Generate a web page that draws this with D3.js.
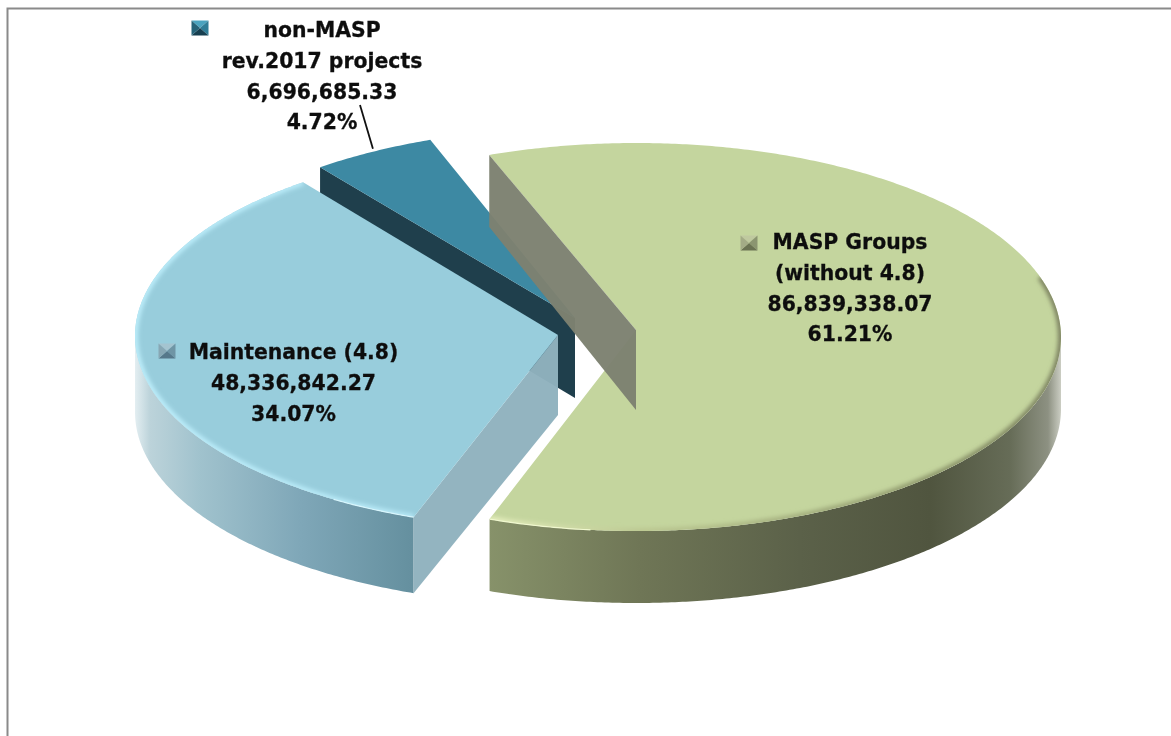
<!DOCTYPE html>
<html><head><meta charset="utf-8">
<script src="https://cdnjs.cloudflare.com/ajax/libs/d3/7.8.5/d3.min.js"></script>
<style>html,body{margin:0;padding:0;background:#fff;overflow:hidden}svg{display:block}</style>
</head><body><svg id="c" width="1171" height="736"></svg>
<script>
const categories = ["MASP Groups", "Maintenance", "non-MASP"];
const seriesValues = [86839338.07, 48336842.27, 6696685.33];
const labelLines = [["MASP Groups", "(without 4.8)"], ["Maintenance (4.8)"], ["non-MASP", "rev.2017 projects"]];
const topColors = ["#c4d59e", "#98cddc", "#3d89a3"];
const wallColors = ["#7d8171", "#8fb2be", "#1f3f4c"];
const markerColors = [["#bfc99f","#8b9570","#6a7252","#a3ab86"], ["#a4c4d0","#6f95a5","#56788a","#87a7b4"], ["#4aa3bf","#2f7d97","#173f50","#256379"]];

const svg = d3.select("#c");
const W = 425, deg = Math.PI / 180;
const apexDepth = 80;
// per-slice layout: ellipse centre, apex, label anchor
const layout = [
  {cx: 636, cy: 337, ry: 194, ax: 636, ay: 330, lx: 850, ly: 242, mx: 749, my: 243, depth: 72},
  {cx: 560, cy: 336, ry: 193, ax: 558, ay: 335, lx: 293.5, ly: 352, mx: 167, my: 351, depth: 76},
  {cx: 577, cy: 321, ry: 193, ax: 575, ay: 318, lx: 322, ly: 30, mx: 200, my: 28, depth: 79}
];
const pie = d3.pie().sort(null).startAngle(-20.2 * deg).endAngle(339.8 * deg);
const arcs = pie(seriesValues);
const total = d3.sum(seriesValues);
const fmt = d3.format(",.2f"), pct = d3.format(".2%");
const line = d3.line();

const pt = (l, a, dz = 0) => [l.cx + W * Math.sin(a), l.cy - l.ry * Math.cos(a) + dz];
const arcPts = (l, a0, a1, dz = 0) => {
  const n = Math.max(2, Math.ceil(Math.abs(a1 - a0) / (0.5 * deg)));
  return d3.range(n + 1).map(i => pt(l, a0 + (a1 - a0) * i / n, dz));
};

const defs = svg.append("defs");
defs.append("filter").attr("id", "soft").attr("x", "-5%").attr("y", "-5%").attr("width", "110%").attr("height", "110%")
  .append("feGaussianBlur").attr("stdDeviation", 2.2);
defs.append("filter").attr("id", "edge").attr("x", "-5%").attr("y", "-5%").attr("width", "110%").attr("height", "110%")
  .append("feGaussianBlur").attr("stdDeviation", 0.7);
defs.append("filter").attr("id", "txt").append("feGaussianBlur").attr("stdDeviation", 0.4);
function grad(id, stops) {
  const g = defs.append("linearGradient").attr("id", id).attr("gradientUnits", "userSpaceOnUse")
    .attr("x1", stops[0][0]).attr("x2", stops[stops.length - 1][0]).attr("y1", 0).attr("y2", 0);
  const x0 = stops[0][0], x1 = stops[stops.length - 1][0];
  stops.forEach(s => g.append("stop").attr("offset", (s[0] - x0) / (x1 - x0)).attr("stop-color", s[1]));
}
grad("side0", [[488, "#87926a"], [640, "#6f7656"], [800, "#5b6149"], [930, "#50553f"], [1010, "#666c57"], [1048, "#8d9182"], [1062, "#d0d2c8"]]);
grad("side1", [[134, "#e6f0f3"], [150, "#bcd3da"], [200, "#a0c2cd"], [300, "#7fa7b8"], [412, "#65909f"]]);
grad("rim0", [[488, "#e6efbe"], [640, "#bcc892"], [800, "#a3ae7e"], [950, "#8a9369"], [1062, "#7b8060"]]);
grad("rim1", [[134, "#bdeefb"], [412, "#b6e8f6"]]);

// frame
svg.append("rect").attr("x", 7.5).attr("y", 8.5).attr("width", 1400).attr("height", 1000)
  .attr("fill", "none").attr("stroke", "#8a8a8a").attr("stroke-width", 2);

const outerPath = (l, d) => {
  const lo = Math.max(d.startAngle, 90 * deg), hi = Math.min(d.endAngle, 270 * deg);
  return line(arcPts(l, lo, hi).concat(arcPts(l, hi, lo, l.depth))) + "Z";
};
const topPath = (l, d) => line([[l.ax, l.ay]].concat(arcPts(l, d.startAngle, d.endAngle))) + "Z";
function sideWall(l, a) {
  const p = pt(l, a);
  return line([p, [l.ax, l.ay], [l.ax, l.ay + apexDepth], [p[0], p[1] + l.depth]]) + "Z";
}

// draw order: non-MASP, Maintenance, MASP
[2, 1, 0].forEach(i => {
  const l = layout[i], d = arcs[i];
  const g = svg.append("g").attr("class", "slice-" + i);
  if (i === 2) {
    g.append("path").attr("d", sideWall(l, d.startAngle)).attr("fill", wallColors[2]);
    g.append("path").attr("d", topPath(l, d)).attr("fill", topColors[2]);
  }
  if (i === 1) {
    g.append("path").attr("d", outerPath(l, d)).attr("fill", "url(#side1)");
    g.append("path").attr("d", sideWall(l, d.startAngle)).attr("fill", wallColors[1]).attr("fill-opacity", 0.97);
    g.append("path").attr("d", topPath(l, d)).attr("fill", topColors[1]);
    defs.append("clipPath").attr("id", "clip1").append("path").attr("d", topPath(l, d));
    g.append("g").attr("clip-path", "url(#clip1)").append("path")
      .attr("d", line(arcPts(l, d.startAngle, d.endAngle)))
      .attr("fill", "none").attr("stroke", "url(#rim1)").attr("stroke-width", 6).attr("filter", "url(#soft)");
    g.append("path").attr("d", line(arcPts(l, d.startAngle, d.startAngle + 12 * deg)))
      .attr("fill", "none").attr("stroke", "#d8f6fd").attr("stroke-width", 1.2).attr("filter", "url(#edge)");
  }
  if (i === 0) {
    g.append("path").attr("d", outerPath(l, d)).attr("fill", "url(#side0)");
    g.append("path").attr("d", topPath(l, d)).attr("fill", topColors[0]);
    defs.append("clipPath").attr("id", "clip0").append("path").attr("d", topPath(l, d));
    g.append("g").attr("clip-path", "url(#clip0)").append("path")
      .attr("d", line(arcPts(l, 72 * deg, d.endAngle)))
      .attr("fill", "none").attr("stroke", "url(#rim0)").attr("stroke-width", 6).attr("filter", "url(#soft)");
    g.append("path").attr("d", line(arcPts(l, d.endAngle - 14 * deg, d.endAngle)))
      .attr("fill", "none").attr("stroke", "#f0f8cf").attr("stroke-width", 1.2).attr("filter", "url(#edge)");
    g.append("path").attr("d", sideWall(l, d.startAngle)).attr("fill", wallColors[0]).attr("fill-opacity", 0.97);
  }
});

// leader line for the small slice
const leadEnd = pt(layout[2], arcs[2].startAngle + 0.5 * (arcs[2].endAngle - arcs[2].startAngle));
svg.append("line").attr("x1", 360).attr("y1", 105).attr("x2", leadEnd[0]).attr("y2", leadEnd[1] - 3)
  .attr("stroke", "#111").attr("stroke-width", 1.8);

// labels
const lineH = 30.7;
const tg = svg.append("g").attr("filter", "url(#txt)");
categories.forEach((c, i) => {
  const l = layout[i];
  const lines = labelLines[i].concat([fmt(seriesValues[i]), pct(seriesValues[i] / total)]);
  lines.forEach((t, j) => {
    tg.append("text").attr("x", l.lx).attr("y", l.ly + j * lineH).attr("dy", "0.36em")
      .attr("text-anchor", "middle").attr("fill", "#111").attr("stroke", "#111").attr("stroke-width", 0.3)
      .attr("font-family", "'DejaVu Sans',sans-serif")
      .attr("font-weight", 700).attr("font-size", 20.4).text(t);
  });
  // legend key: four shaded triangles
  const sx = 8.5, sy = 7.5, m = markerColors[i], x = l.mx, y = l.my;
  [[[x-sx,y-sy],[x+sx,y-sy]], [[x+sx,y-sy],[x+sx,y+sy]], [[x+sx,y+sy],[x-sx,y+sy]], [[x-sx,y+sy],[x-sx,y-sy]]].forEach((e, k) => {
    svg.append("path").attr("d", line([e[0], e[1], [x, y]]) + "Z").attr("fill", m[k]);
  });
});
</script></body></html>
